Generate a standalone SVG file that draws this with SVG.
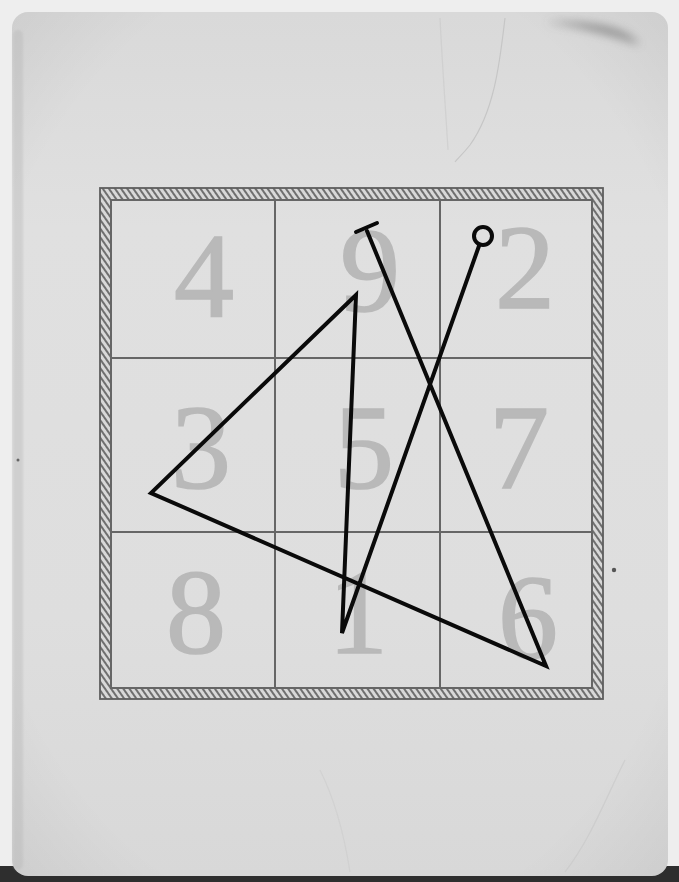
<svg xmlns="http://www.w3.org/2000/svg" width="679" height="882" viewBox="0 0 679 882">
  <defs>
    <style>
      .digit { font-family: "Liberation Serif", "Times New Roman", serif; font-size: 120px; fill: #b9b9b9; stroke: #b9b9b9; stroke-width: 1.6; text-anchor: middle; }
      .grid { stroke: #666; stroke-width: 2; fill: none; }
      .frame-edge { stroke: #5e5e5e; stroke-width: 1.8; fill: none; }
      .sigil { stroke: #0a0a0a; stroke-width: 4; fill: none; stroke-linejoin: miter; stroke-linecap: round; }
      .crease { stroke: #c6c6c6; stroke-width: 1.2; fill: none; }
    </style>
    <linearGradient id="paper" x1="0" y1="0" x2="0" y2="1">
      <stop offset="0" stop-color="#d9d9d9"/>
      <stop offset="0.25" stop-color="#e0e0e0"/>
      <stop offset="0.7" stop-color="#dedede"/>
      <stop offset="1" stop-color="#d8d8d8"/>
    </linearGradient>
    <radialGradient id="vignette" cx="0.5" cy="0.5" r="0.8">
      <stop offset="0.7" stop-color="#000" stop-opacity="0"/>
      <stop offset="1" stop-color="#000" stop-opacity="0.08"/>
    </radialGradient>
    <pattern id="hatch" width="5" height="5" patternUnits="userSpaceOnUse" patternTransform="rotate(-35)">
      <rect width="5" height="5" fill="#d8d8d8"/>
      <line x1="1" y1="0" x2="1" y2="5" stroke="#6f6f6f" stroke-width="2"/>
    </pattern>
    <filter id="blur" x="-50%" y="-50%" width="200%" height="200%">
      <feGaussianBlur stdDeviation="5"/>
    </filter>
    <filter id="blur2" x="-50%" y="-50%" width="200%" height="200%">
      <feGaussianBlur stdDeviation="1"/>
    </filter>
  </defs>

  <!-- background -->
  <rect x="0" y="0" width="679" height="882" fill="#eeeeee"/>
  <rect x="0" y="866" width="679" height="16" fill="#2e2e2e"/>

  <!-- card -->
  <g id="card">
    <rect x="12" y="12" width="656" height="864" rx="16" fill="url(#paper)"/>
    <rect x="12" y="12" width="656" height="864" rx="16" fill="url(#vignette)"/>
    <rect x="13" y="30" width="10" height="840" rx="5" fill="#b4b4b4" opacity="0.35" filter="url(#blur2)"/>
    <path d="M545 22 C575 25 610 35 640 45 C630 30 600 20 545 22 Z" fill="#555" opacity="0.55" filter="url(#blur)"/>
    <path class="crease" d="M505 18 C500 60 495 110 470 145 C462 155 458 158 455 162"/>
    <path class="crease" d="M440 18 C442 60 445 100 448 150" opacity="0.5"/>
    <path class="crease" d="M625 760 C605 800 590 840 565 872" opacity="0.6"/>
    <path class="crease" d="M320 770 C335 800 345 840 350 872" opacity="0.4"/>
    <circle cx="614" cy="570" r="2.2" fill="#555"/>
    <circle cx="18" cy="460" r="1.5" fill="#666"/>
  </g>

  <!-- frame -->
  <g id="frame">
    <path d="M100 188 H603 V699 H100 Z M111 200 V688 H592 V200 Z" fill="url(#hatch)" fill-rule="evenodd"/>
    <rect class="frame-edge" x="100" y="188" width="503" height="511"/>
    <rect class="frame-edge" x="111" y="200" width="481" height="488"/>
  </g>

  <!-- grid -->
  <g id="grid">
    <line class="grid" x1="111" y1="200" x2="592" y2="200"/>
    <line class="grid" x1="111" y1="688" x2="592" y2="688"/>
    <line class="grid" x1="111" y1="200" x2="111" y2="688"/>
    <line class="grid" x1="592" y1="200" x2="592" y2="688"/>
    <line class="grid" x1="275" y1="200" x2="275" y2="688"/>
    <line class="grid" x1="440" y1="200" x2="440" y2="688"/>
    <line class="grid" x1="111" y1="358" x2="592" y2="358"/>
    <line class="grid" x1="111" y1="532" x2="592" y2="532"/>
  </g>

  <!-- cells -->
  <g id="cell-4"><text class="digit" x="204" y="316">4</text></g>
  <g id="cell-9"><text class="digit" x="370" y="311">9</text></g>
  <g id="cell-2"><text class="digit" x="525" y="308">2</text></g>
  <g id="cell-3"><text class="digit" x="201" y="488">3</text></g>
  <g id="cell-5"><text class="digit" x="364" y="488">5</text></g>
  <g id="cell-7"><text class="digit" x="519" y="488">7</text></g>
  <g id="cell-8"><text class="digit" x="196" y="653">8</text></g>
  <g id="cell-1"><text class="digit" x="358" y="653">1</text></g>
  <g id="cell-6"><text class="digit" x="528" y="658">6</text></g>

  <!-- sigil connectors -->
  <g id="connectors">
    <circle class="sigil" cx="483" cy="236" r="9"/>
    <path class="sigil" d="M479.5 244.5 L342 633 L356 295 L151 493 L546 666 L367 231"/>
    <line class="sigil" x1="356" y1="232" x2="377" y2="223"/>
  </g>
</svg>
